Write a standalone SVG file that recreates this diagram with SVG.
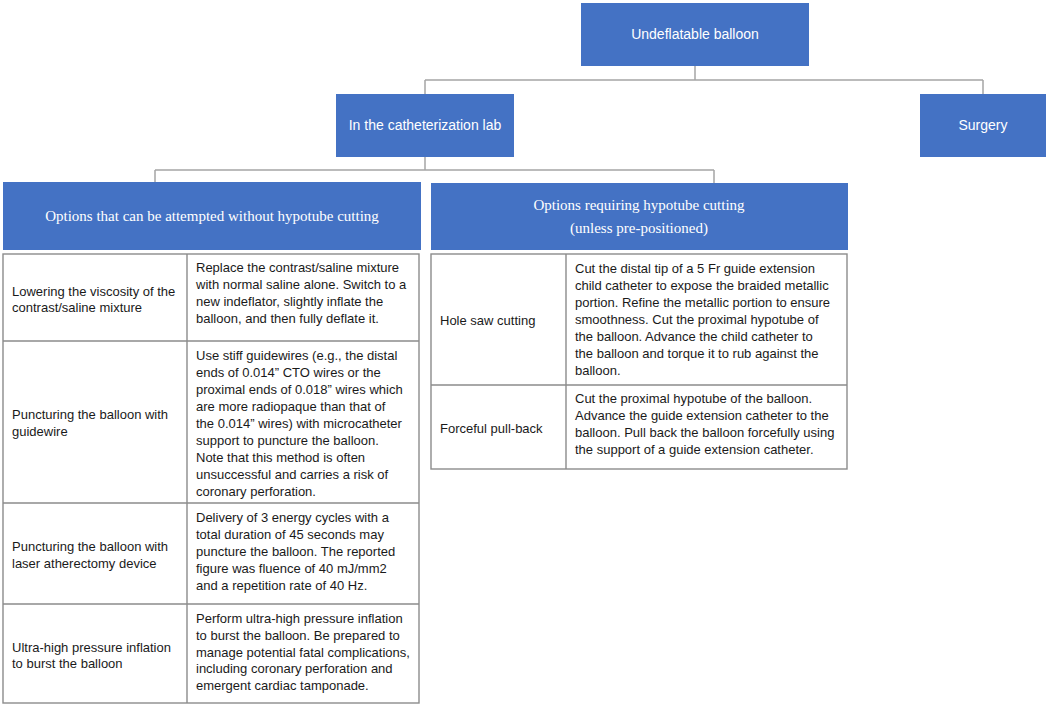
<svg xmlns="http://www.w3.org/2000/svg" width="1049" height="709" viewBox="0 0 1049 709">
<style>
.node{fill:#4472C4}
.nt{font-family:"Liberation Sans",Arial,sans-serif;font-size:14px;fill:#fff;text-anchor:middle}
.ht{font-family:"Liberation Serif","Times New Roman",serif;font-size:15px;fill:#fff;text-anchor:middle}
.conn{stroke:#A5A5A5;stroke-width:1.5;fill:none}
.grid{stroke:#8C8C8C;stroke-width:1.4;fill:#fff}
.gl{stroke:#8C8C8C;stroke-width:1.4;fill:none}
.tt{font-family:"Liberation Sans",Arial,sans-serif;font-size:13px;fill:#1a1a1a}
</style>
<rect width="1049" height="709" fill="#fff"/>
<g id="connectors">
<path class="conn" d="M695,66 V80 M425,80 H983 M425,80 V94 M983,80 V94"/>
<path class="conn" d="M425,157 V170 M155,170 H714 M155,170 V182 M714,170 V183"/>
</g>
<g id="node-undeflatable">
<rect class="node" x="581" y="3" width="228" height="63"/>
<text class="nt" x="695" y="39">Undeflatable balloon</text>
</g>
<g id="node-cathlab">
<rect class="node" x="336" y="94" width="178" height="63"/>
<text class="nt" x="425" y="130">In the catheterization lab</text>
</g>
<g id="node-surgery">
<rect class="node" x="920" y="94" width="126" height="63"/>
<text class="nt" x="983" y="130">Surgery</text>
</g>
<g id="node-without-cutting">
<rect class="node" x="3" y="182" width="418" height="68"/>
<text class="ht" x="212" y="221">Options that can be attempted without hypotube cutting</text>
<rect class="grid" x="3" y="254" width="416" height="449"/>
<path class="gl" d="M187,254 V703 M3,341 H419 M3,503 H419 M3,604 H419"/>
<text class="tt" x="12"><tspan x="12" y="296">Lowering the viscosity of the</tspan><tspan x="12" y="312">contrast/saline mixture</tspan></text>
<text class="tt"><tspan x="196" y="272">Replace the contrast/saline mixture</tspan><tspan x="196" y="289">with normal saline alone. Switch to a</tspan><tspan x="196" y="306">new indeflator, slightly inflate the</tspan><tspan x="196" y="323">balloon, and then fully deflate it.</tspan></text>
<text class="tt"><tspan x="12" y="419">Puncturing the balloon with</tspan><tspan x="12" y="436">guidewire</tspan></text>
<text class="tt"><tspan x="196" y="360">Use stiff guidewires (e.g., the distal</tspan><tspan x="196" y="377">ends of 0.014” CTO wires or the</tspan><tspan x="196" y="394">proximal ends of 0.018” wires which</tspan><tspan x="196" y="411">are more radiopaque than that of</tspan><tspan x="196" y="428">the 0.014” wires) with microcatheter</tspan><tspan x="196" y="445">support to puncture the balloon.</tspan><tspan x="196" y="462">Note that this method is often</tspan><tspan x="196" y="479">unsuccessful and carries a risk of</tspan><tspan x="196" y="496">coronary perforation.</tspan></text>
<text class="tt"><tspan x="12" y="551">Puncturing the balloon with</tspan><tspan x="12" y="568">laser atherectomy device</tspan></text>
<text class="tt"><tspan x="196" y="522">Delivery of 3 energy cycles with a</tspan><tspan x="196" y="539">total duration of 45 seconds may</tspan><tspan x="196" y="556">puncture the balloon. The reported</tspan><tspan x="196" y="573">figure was fluence of 40 mJ/mm2</tspan><tspan x="196" y="590">and a repetition rate of 40 Hz.</tspan></text>
<text class="tt"><tspan x="12" y="652">Ultra-high pressure inflation</tspan><tspan x="12" y="668">to burst the balloon</tspan></text>
<text class="tt"><tspan x="196" y="623">Perform ultra-high pressure inflation</tspan><tspan x="196" y="640">to burst the balloon. Be prepared to</tspan><tspan x="196" y="657">manage potential fatal complications,</tspan><tspan x="196" y="673">including coronary perforation and</tspan><tspan x="196" y="690">emergent cardiac tamponade.</tspan></text>
</g>
<g id="node-requiring-cutting">
<rect class="node" x="431" y="183" width="417" height="67"/>
<text class="ht"><tspan x="639" y="210">Options requiring hypotube cutting</tspan><tspan x="639" y="233">(unless pre-positioned)</tspan></text>
<rect class="grid" x="431" y="254" width="416" height="215"/>
<path class="gl" d="M566,254 V469 M431,385 H847"/>
<text class="tt" x="440" y="325">Hole saw cutting</text>
<text class="tt"><tspan x="575" y="273">Cut the distal tip of a 5 Fr guide extension</tspan><tspan x="575" y="290">child catheter to expose the braided metallic</tspan><tspan x="575" y="307">portion. Refine the metallic portion to ensure</tspan><tspan x="575" y="324">smoothness. Cut the proximal hypotube of</tspan><tspan x="575" y="341">the balloon. Advance the child catheter to</tspan><tspan x="575" y="358">the balloon and torque it to rub against the</tspan><tspan x="575" y="375">balloon.</tspan></text>
<text class="tt" x="440" y="433">Forceful pull-back</text>
<text class="tt"><tspan x="575" y="403">Cut the proximal hypotube of the balloon.</tspan><tspan x="575" y="420">Advance the guide extension catheter to the</tspan><tspan x="575" y="437">balloon. Pull back the balloon forcefully using</tspan><tspan x="575" y="454">the support of a guide extension catheter.</tspan></text>
</g>
</svg>
